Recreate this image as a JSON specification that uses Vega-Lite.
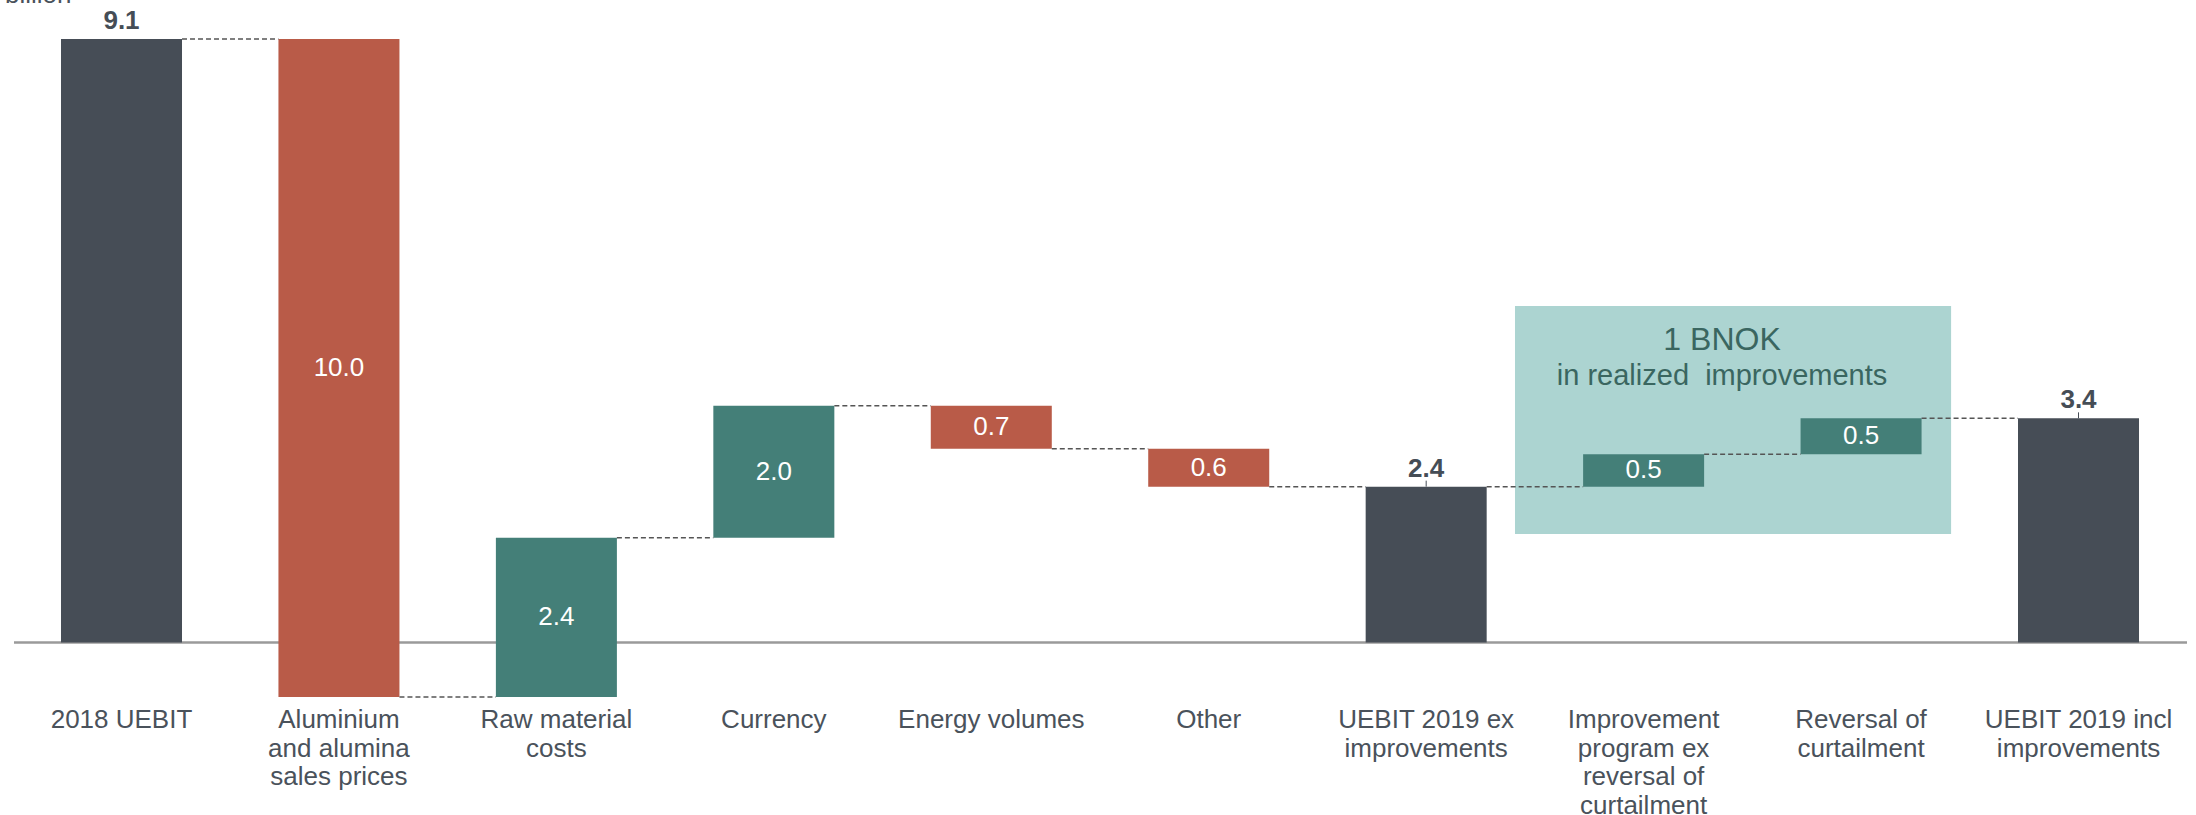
{
  "$schema": "https://vega.github.io/schema/vega-lite/v6.json",
  "width": 2196,
  "height": 700,
  "autosize": {"type": "none"},
  "padding": {"left": 0, "top": 0, "right": 0, "bottom": 115},
  "background": "#ffffff",
  "config": {
    "view": {"stroke": null},
    "font": "Liberation Sans",
    "axis": {"domain": false, "ticks": false, "grid": false}
  },
  "data": {
    "values": [
      {"cat": "2018 UEBIT", "start": 0, "end": 9.1, "label": "9.1", "kind": "total", "next": "Aluminium|and alumina|sales prices"},
      {"cat": "Aluminium|and alumina|sales prices", "start": 9.1, "end": -0.82, "label": "10.0", "kind": "decrease", "next": "Raw material|costs"},
      {"cat": "Raw material|costs", "start": -0.82, "end": 1.58, "label": "2.4", "kind": "increase", "next": "Currency"},
      {"cat": "Currency", "start": 1.58, "end": 3.57, "label": "2.0", "kind": "increase", "next": "Energy volumes"},
      {"cat": "Energy volumes", "start": 3.57, "end": 2.92, "label": "0.7", "kind": "decrease", "next": "Other"},
      {"cat": "Other", "start": 2.92, "end": 2.35, "label": "0.6", "kind": "decrease", "next": "UEBIT 2019 ex|improvements"},
      {"cat": "UEBIT 2019 ex|improvements", "start": 0, "end": 2.35, "label": "2.4", "kind": "total", "next": "Improvement|program ex|reversal of|curtailment"},
      {"cat": "Improvement|program ex|reversal of|curtailment", "start": 2.35, "end": 2.84, "label": "0.5", "kind": "increase", "next": "Reversal of|curtailment"},
      {"cat": "Reversal of|curtailment", "start": 2.84, "end": 3.38, "label": "0.5", "kind": "increase", "next": "UEBIT 2019 incl|improvements"},
      {"cat": "UEBIT 2019 incl|improvements", "start": 0, "end": 3.38, "label": "3.4", "kind": "total", "next": null}
    ]
  },
  "encoding": {
    "x": {
      "field": "cat",
      "type": "nominal",
      "sort": null,
      "scale": {
        "domain": ["2018 UEBIT", "Aluminium|and alumina|sales prices", "Raw material|costs", "Currency", "Energy volumes", "Other", "UEBIT 2019 ex|improvements", "Improvement|program ex|reversal of|curtailment", "Reversal of|curtailment", "UEBIT 2019 incl|improvements"],
        "paddingInner": 0.4435, "paddingOuter": 0.2713, "align": 0.517
      },
      "axis": {
        "orient": "bottom",
        "title": null,
        "labelAngle": 0,
        "labelFontSize": 26,
        "labelColor": "#4a525b",
        "labelPadding": 27.5,
        "labelBaseline": "alphabetic",
        "labelLineHeight": 28.5,
        "labelLimit": 0,
        "labelFont": "Liberation Sans",
        "labelFontWeight": "normal",
        "labelExpr": "split(datum.value, '|')"
      }
    }
  },
  "layer": [
    {
      "data": {"values": [{}]},
      "mark": {"type": "rect", "color": "#acd4d1"},
      "encoding": {
        "x": {"datum": "Improvement|program ex|reversal of|curtailment", "bandPosition": -0.563},
        "x2": {"datum": "Reversal of|curtailment", "bandPosition": 1.244},
        "y": {"datum": 5.074, "type": "quantitative", "scale": {"domain": [-0.867, 9.688], "nice": false, "zero": false}, "axis": null},
        "y2": {"datum": 1.636}
      }
    },
    {
      "data": {"values": [{}]},
      "mark": {"type": "rule", "color": "#9a9a9a", "strokeWidth": 2.5},
      "encoding": {
        "y": {"datum": 0, "type": "quantitative"},
        "x": {"value": 14},
        "x2": {"value": 2187}
      }
    },
    {
      "mark": {"type": "bar"},
      "encoding": {
        "y": {"field": "start", "type": "quantitative"},
        "y2": {"field": "end"},
        "color": {
          "field": "kind",
          "type": "nominal",
          "scale": {"domain": ["total", "decrease", "increase"], "range": ["#464d56", "#b95b48", "#447f78"]},
          "legend": null
        }
      }
    },
    {
      "transform": [{"filter": "datum.next != null"}],
      "mark": {"type": "rule", "color": "#555555", "strokeWidth": 1.5, "strokeDash": [5, 3]},
      "encoding": {
        "x": {"field": "cat", "type": "nominal", "sort": null, "bandPosition": 1},
        "x2": {"field": "next", "bandPosition": 0},
        "y": {"field": "end", "type": "quantitative"}
      }
    },
    {
      "transform": [{"filter": "datum.kind == 'total' && datum.cat != '2018 UEBIT'"}],
      "mark": {"type": "rule", "color": "#464d56", "strokeWidth": 1, "y2Offset": -6},
      "encoding": {
        "y": {"field": "end", "type": "quantitative"},
        "y2": {"field": "end"}
      }
    },
    {
      "transform": [
        {"filter": "datum.kind != 'total'"},
        {"calculate": "(datum.start + datum.end) / 2", "as": "mid"}
      ],
      "mark": {"type": "text", "color": "#ffffff", "fontSize": 26, "fontWeight": "normal", "baseline": "middle", "align": "center"},
      "encoding": {
        "y": {"field": "mid", "type": "quantitative"},
        "text": {"field": "label"}
      }
    },
    {
      "transform": [{"filter": "datum.kind == 'total'"}],
      "mark": {"type": "text", "color": "#454d56", "fontSize": 26, "fontWeight": "bold", "baseline": "alphabetic", "align": "center", "dy": -10},
      "encoding": {
        "y": {"field": "end", "type": "quantitative"},
        "text": {"field": "label"}
      }
    },
    {
      "data": {"values": [{}]},
      "mark": {"type": "text", "color": "#3a6660", "fontSize": 32, "fontWeight": "normal", "baseline": "alphabetic", "align": "center"},
      "encoding": {
        "x": {"datum": "Improvement|program ex|reversal of|curtailment", "bandPosition": 1.148},
        "y": {"datum": 4.41, "type": "quantitative"},
        "text": {"value": "1 BNOK"}
      }
    },
    {
      "data": {"values": [{}]},
      "mark": {"type": "text", "color": "#3a6660", "fontSize": 29, "fontWeight": "normal", "baseline": "alphabetic", "align": "center"},
      "encoding": {
        "x": {"datum": "Improvement|program ex|reversal of|curtailment", "bandPosition": 1.148},
        "y": {"datum": 3.88, "type": "quantitative"},
        "text": {"value": "in realized\u00a0 improvements"}
      }
    },
    {
      "data": {"values": [{}]},
      "mark": {"type": "text", "color": "#4a525b", "fontSize": 26, "fontWeight": "normal", "baseline": "alphabetic", "align": "left"},
      "encoding": {
        "x": {"datum": "2018 UEBIT", "bandPosition": -0.463},
        "y": {"datum": 9.643, "type": "quantitative"},
        "text": {"value": "billion"}
      }
    }
  ]
}
